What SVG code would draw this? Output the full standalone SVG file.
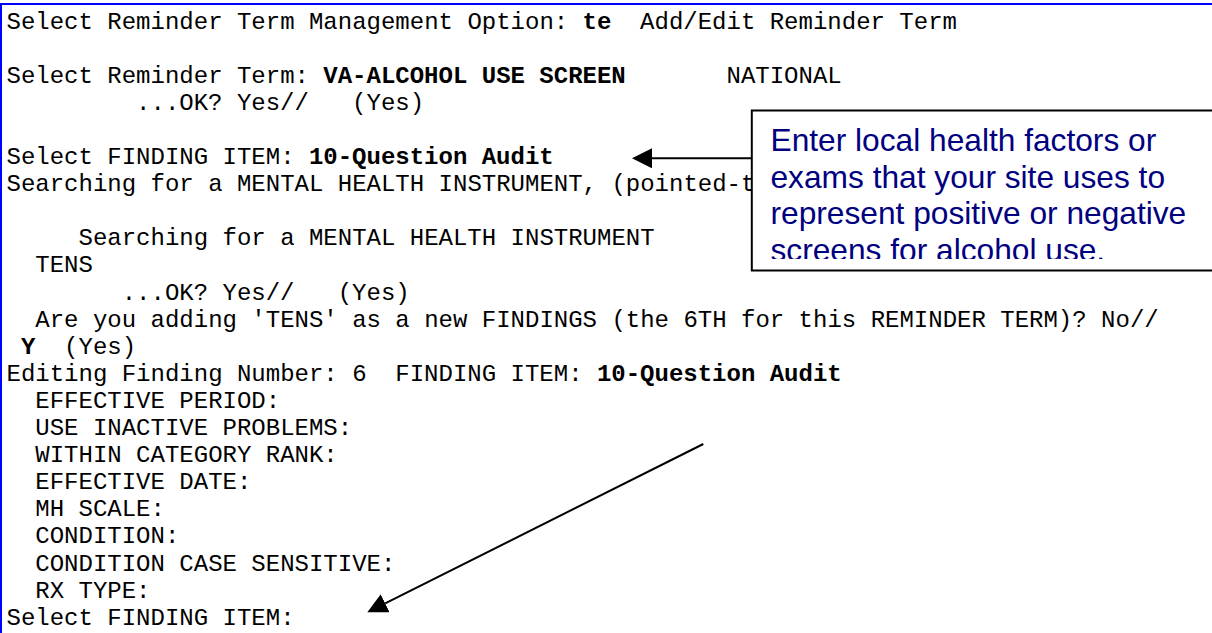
<svg xmlns="http://www.w3.org/2000/svg" width="1212" height="633" viewBox="0 0 1212 633">
<style>
.mono{font-family:"Liberation Mono","Courier New",monospace;font-size:24px;fill:#000}
.b{font-weight:bold}
.note{font-family:"Liberation Sans",Arial,sans-serif;font-size:31.7px;fill:#000080}
.conn{stroke:#000;stroke-width:2;fill:none}
</style>
<defs>
<marker id="ah" viewBox="0 0 20 20" markerWidth="20" markerHeight="20" markerUnits="userSpaceOnUse" refX="0" refY="10" orient="auto">
<path d="M0,0 L20,10 L0,20 z" fill="#000"/>
</marker>
<clipPath id="noteclip"><rect x="752" y="111" width="470" height="148"/></clipPath>
</defs>
<rect width="1212" height="633" fill="#fff"/>
<rect id="frame" x="1" y="4" width="1230" height="660" fill="none" stroke="#0000FF" stroke-width="2"/>
<g id="terminal" class="mono">
<text y="28.5"><tspan x="6.5">Select Reminder Term Management Option:</tspan><tspan x="582.5" class="b">te</tspan><tspan x="640.1">Add/Edit Reminder Term</tspan></text>
<text y="82.7"><tspan x="6.5">Select Reminder Term:</tspan><tspan x="323.3" class="b">VA-ALCOHOL USE SCREEN</tspan><tspan x="726.5">NATIONAL</tspan></text>
<text y="109.8"><tspan x="136.1">...OK? Yes//</tspan><tspan x="352.1">(Yes)</tspan></text>
<text y="164"><tspan x="6.5">Select FINDING ITEM:</tspan><tspan x="308.9" class="b">10-Question Audit</tspan></text>
<text x="6.5" y="191.1">Searching for a MENTAL HEALTH INSTRUMENT, (pointed-t</text>
<text x="78.5" y="245.3">Searching for a MENTAL HEALTH INSTRUMENT</text>
<text x="35.3" y="272.4">TENS</text>
<text y="299.5"><tspan x="121.7">...OK? Yes//</tspan><tspan x="337.7">(Yes)</tspan></text>
<text x="35.3" y="326.6">Are you adding 'TENS' as a new FINDINGS (the 6TH for this REMINDER TERM)? No//</text>
<text y="353.7"><tspan x="20.9" class="b">Y</tspan><tspan x="64.1">(Yes)</tspan></text>
<text y="380.8"><tspan x="6.5">Editing Finding Number: 6</tspan><tspan x="395.3">FINDING ITEM:</tspan><tspan x="596.9" class="b">10-Question Audit</tspan></text>
<text x="35.3" y="407.9">EFFECTIVE PERIOD:</text>
<text x="35.3" y="435">USE INACTIVE PROBLEMS:</text>
<text x="35.3" y="462.1">WITHIN CATEGORY RANK:</text>
<text x="35.3" y="489.2">EFFECTIVE DATE:</text>
<text x="35.3" y="516.3">MH SCALE:</text>
<text x="35.3" y="543.4">CONDITION:</text>
<text x="35.3" y="570.5">CONDITION CASE SENSITIVE:</text>
<text x="35.3" y="597.6">RX TYPE:</text>
<text x="6.5" y="624.7">Select FINDING ITEM:</text>
</g>
<g id="callout">
<rect x="751.8" y="110.5" width="480" height="160" fill="#fff" stroke="#000" stroke-width="2"/>
<g clip-path="url(#noteclip)" class="note">
<text x="770.5" y="151">Enter local health factors or</text>
<text x="770.5" y="187.5">exams that your site uses to</text>
<text x="770.5" y="224">represent positive or negative</text>
<text x="770.5" y="260.5">screens for alcohol use.</text>
</g>
</g>
<g id="connectors">
<line class="conn" x1="751" y1="158.3" x2="652" y2="158.3" marker-end="url(#ah)"/>
<line class="conn" x1="703.3" y1="444" x2="385.2" y2="603.3" marker-end="url(#ah)"/>
</g>
</svg>
